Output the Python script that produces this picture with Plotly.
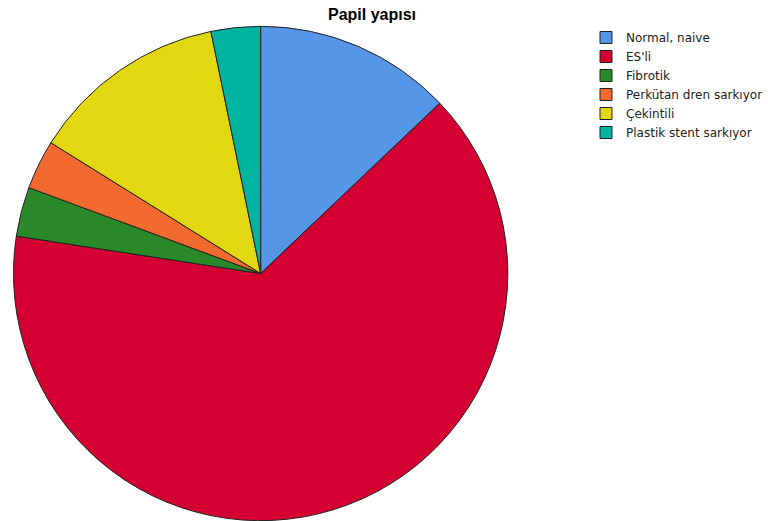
import plotly.graph_objects as go

# Papil yapısı dağılımı (hasta sayıları)
categories = ["Normal, naive", "ES'li", "Fibrotik", "Perkütan dren sarkıyor", "Çekintili", "Plastik stent sarkıyor"]
counts = [4, 20, 1, 1, 4, 1]
colors = ["#5596E6", "#D30031", "#2A8A2A", "#F36A30", "#E2D812", "#00B4A0"]

W, H = 768, 521
TOP = 26
PLOT_H = H - TOP
R = PLOT_H / 2
CX = 261

fig = go.Figure(
    go.Pie(
        labels=categories,
        values=counts,
        sort=False,
        direction="clockwise",
        rotation=0,
        marker=dict(colors=colors, line=dict(color="#222222", width=1)),
        textinfo="none",
        hoverinfo="label+value+percent",
        domain=dict(x=[(CX - R) / W, (CX + R) / W], y=[0, 1]),
    )
)

fig.update_layout(
    width=W,
    height=H,
    paper_bgcolor="white",
    plot_bgcolor="white",
    margin=dict(l=0, r=0, t=TOP, b=0),
    title=dict(
        text="<b>Papil yapısı</b>",
        x=372 / W,
        xanchor="center",
        y=1 - 14 / H,
        yanchor="middle",
        font=dict(family="Arial, Liberation Sans", size=16, color="#000000"),
    ),
    legend=dict(
        x=587 / W,
        y=1 + 3 / PLOT_H,
        xanchor="left",
        yanchor="top",
        font=dict(family="DejaVu Sans", size=12, color="#222222"),
        itemwidth=30,
        tracegroupgap=0,
        bgcolor="rgba(0,0,0,0)",
    ),
)

fig.write_html("out.html")
